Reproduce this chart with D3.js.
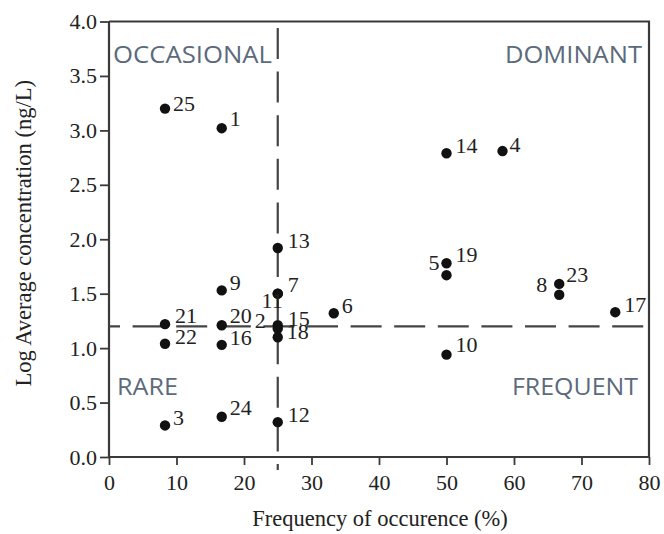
<!DOCTYPE html>
<html>
<head>
<meta charset="utf-8">
<script src="https://cdnjs.cloudflare.com/ajax/libs/d3/7.8.5/d3.min.js"></script>
<style>
  html, body { margin: 0; padding: 0; background: #fff; }
  svg { display: block; }
</style>
</head>
<body>
<svg id="chart" width="664" height="534"></svg>
<script>
// ---- data ----
const ids        = ["1","2","3","4","5","6","7","8","9","10","11","12","13","14","15","16","17","18","19","20","21","22","23","24","25"];
const frequency  = [16.7, 25, 8.3, 58.3, 50, 33.3, 25, 66.7, 16.7, 50, 25, 25, 25, 50, 25, 16.7, 75, 25, 50, 16.7, 8.3, 8.3, 66.7, 16.7, 8.3];
const logConc    = [3.02, 1.21, 0.29, 2.81, 1.78, 1.32, 1.50, 1.59, 1.53, 0.94, 1.50, 0.32, 1.92, 2.79, 1.18, 1.03, 1.33, 1.10, 1.67, 1.21, 1.22, 1.04, 1.49, 0.37, 3.20];
const xTicks     = [0, 10, 20, 30, 40, 50, 60, 70, 80];
const yTicks     = [0.0, 0.5, 1.0, 1.5, 2.0, 2.5, 3.0, 3.5, 4.0];
const xThreshold = 25;
const yThreshold = 1.2;
const quadrants  = ["OCCASIONAL", "DOMINANT", "RARE", "FREQUENT"];
const xTitle     = "Frequency of occurence (%)";
const yTitle     = "Log Average concentration (ng/L)";

// ---- layout ----
const svg = d3.select("#chart");
const L = 109, R = 649, T = 21.5, B = 457;
const x = d3.scaleLinear().domain([0, 80]).range([L, R]);
const y = d3.scaleLinear().domain([0, 4]).range([B, T]);
const serif = "'Liberation Serif', 'Times New Roman', serif";
const axisColor = "#3a3a3a";

// label placement (drawing concern, not data)
const labelPos = {
  "1":  {dx: 8,  dy: -2, anchor: "start"},
  "2":  {dx: -12, dy: 3, anchor: "end"},
  "3":  {dx: 8,  dy: 0, anchor: "start"},
  "4":  {dx: 7,  dy: 1, anchor: "start"},
  "5":  {dx: -7, dy: 7, anchor: "end"},
  "6":  {dx: 8,  dy: 0, anchor: "start"},
  "7":  {dx: 10, dy: -2, anchor: "start"},
  "8":  {dx: -12, dy: 8, anchor: "end"},
  "9":  {dx: 8,  dy: 0, anchor: "start"},
  "10": {dx: 9,  dy: -3, anchor: "start"},
  "11": {dx: 5,  dy: 14, anchor: "end"},
  "12": {dx: 10, dy: 0, anchor: "start"},
  "13": {dx: 10, dy: 0, anchor: "start"},
  "14": {dx: 9,  dy: 0, anchor: "start"},
  "15": {dx: 10, dy: -3, anchor: "start"},
  "16": {dx: 8,  dy: 0, anchor: "start"},
  "17": {dx: 9,  dy: 0, anchor: "start"},
  "18": {dx: 9,  dy: 2, anchor: "start"},
  "19": {dx: 9,  dy: -13, anchor: "start"},
  "20": {dx: 8,  dy: -2, anchor: "start"},
  "21": {dx: 10, dy: -1, anchor: "start"},
  "22": {dx: 10, dy: 0, anchor: "start"},
  "23": {dx: 7,  dy: -13, anchor: "start"},
  "24": {dx: 8,  dy: -2, anchor: "start"},
  "25": {dx: 8,  dy: 2, anchor: "start"}
};

// ---- axes ----
const xAxis = d3.axisBottom(x).tickValues(xTicks).tickSize(8).tickPadding(9)
  .tickFormat(d3.format("d"));
const yAxis = d3.axisLeft(y).tickValues(yTicks).tickSize(9).tickPadding(3)
  .tickFormat(d3.format(".1f"));

const gx = svg.append("g").attr("transform", `translate(0,${B})`).call(xAxis);
const gy = svg.append("g").attr("transform", `translate(${L},0)`).call(yAxis);
[gx, gy].forEach(g => {
  g.attr("font-family", null);
  g.select(".domain").attr("stroke", axisColor).attr("stroke-width", 2.2);
  g.selectAll(".tick line").attr("stroke", axisColor).attr("stroke-width", 1.8);
  g.selectAll(".tick text").attr("fill", "#222").style("font-family", serif).style("font-size", "22px");
});
gx.select(".domain").attr("d", `M${L},0H${R}`);
gy.select(".domain").attr("d", `M0,${B}V${T}`);

// frame top and right
svg.append("path")
  .attr("d", `M${L},${T}H${R}V${B}`)
  .attr("fill", "none").attr("stroke", axisColor).attr("stroke-width", 2.2);

// ---- threshold dashed lines ----
svg.append("line")
  .attr("x1", x(xThreshold)).attr("x2", x(xThreshold))
  .attr("y1", 28).attr("y2", 470)
  .attr("stroke", "#444").attr("stroke-width", 2.2)
  .attr("stroke-dasharray", "31,12.6");
svg.append("line")
  .attr("x1", L).attr("x2", R)
  .attr("y1", y(yThreshold)).attr("y2", y(yThreshold))
  .attr("stroke", "#444").attr("stroke-width", 2.2)
  .attr("stroke-dasharray", "31,12.6").attr("stroke-dashoffset", 20);

// ---- points ----
const pts = ids.map((id, i) => ({id, fx: frequency[i], lc: logConc[i]}));
svg.append("g").selectAll("circle").data(pts).join("circle")
  .attr("cx", d => x(d.fx)).attr("cy", d => y(d.lc)).attr("r", 5.2)
  .attr("fill", "#111");

svg.append("g").selectAll("text").data(pts).join("text")
  .attr("x", d => x(d.fx) + labelPos[d.id].dx)
  .attr("y", d => y(d.lc) + labelPos[d.id].dy)
  .attr("text-anchor", d => labelPos[d.id].anchor)
  .style("font-family", serif).style("font-size", "22px").attr("fill", "#222")
  .text(d => d.id);

// ---- quadrant labels ----
const qFont = "'Open Sans', 'Lato', sans-serif";
const qPos = [
  {x: 113, y: 63, anchor: "start", w: 159},
  {x: 642, y: 63, anchor: "end", w: 137},
  {x: 117, y: 395, anchor: "start", w: 61},
  {x: 638, y: 395, anchor: "end", w: 126}
];
svg.append("g").selectAll("text").data(quadrants).join("text")
  .attr("x", (d, i) => qPos[i].x).attr("y", (d, i) => qPos[i].y)
  .attr("text-anchor", (d, i) => qPos[i].anchor)
  .attr("textLength", (d, i) => qPos[i].w).attr("lengthAdjust", "spacingAndGlyphs")
  .style("font-family", qFont).style("font-size", "23px").attr("fill", "#5c6a7c")
  .text(d => d);

// ---- axis titles ----
svg.append("text")
  .attr("x", (L + R) / 2 + 1).attr("y", 526)
  .attr("text-anchor", "middle")
  .style("font-family", serif).style("font-size", "22.5px").attr("fill", "#222")
  .text(xTitle);
svg.append("text")
  .attr("transform", `translate(31,${(T + B) / 2 - 6}) rotate(-90)`)
  .attr("text-anchor", "middle")
  .style("font-family", serif).style("font-size", "22.5px").attr("fill", "#222")
  .text(yTitle);
</script>
</body>
</html>
